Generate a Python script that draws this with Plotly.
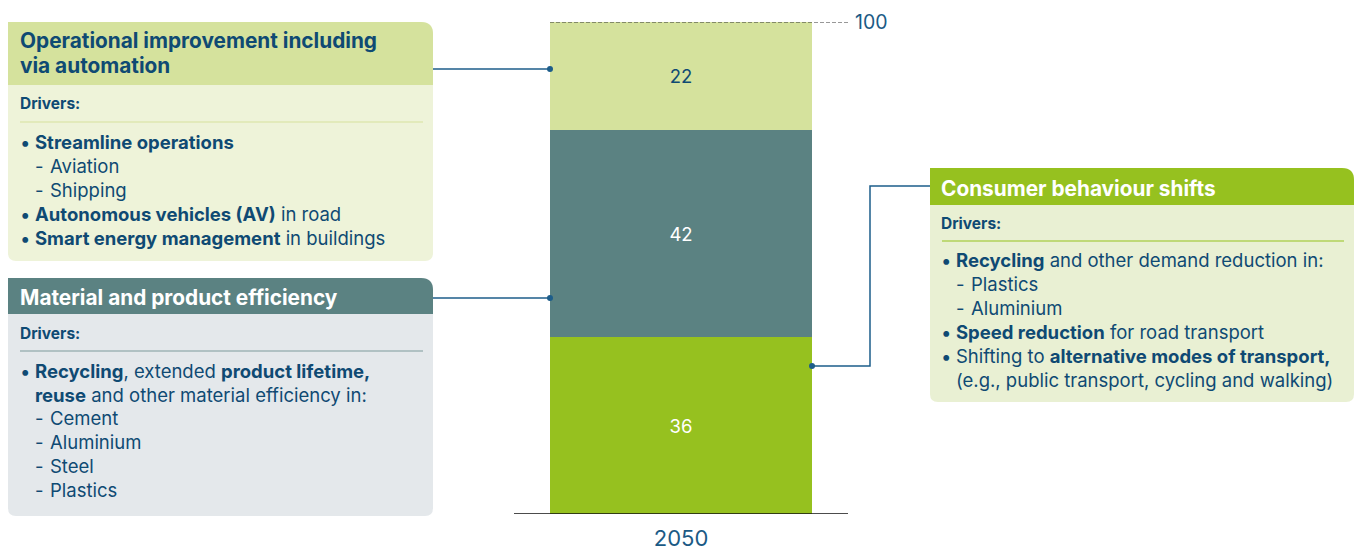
import plotly.graph_objects as go

# ---- data -------------------------------------------------------------
year = ["2050"]
segment_names = [
    "Consumer behaviour shifts",
    "Material and product efficiency",
    "Operational improvement including via automation",
]
segment_values = [36, 42, 22]
total = sum(segment_values)

# ---- styling ----------------------------------------------------------
W, H = 1357, 550
PLOT_TOP, PLOT_BOTTOM = 22, 514
FONT = "Inter, Roboto, 'Noto Sans', sans-serif"
TEXT = "#0f4a73"
LINK = "#1d5d8a"
BODY_SIZE = 18.5
TITLE_SIZE = 20.8
DRIVER_SIZE = 15.5

segment_colors = ["#96c11f", "#5b8282", "#d5e29d"]
segment_label_colors = ["#ffffff", "#ffffff", TEXT]

BAR_X, BAR_W = 681, 262


def px(x):
    return x / W


def py(y):
    return (PLOT_BOTTOM - y) / (PLOT_BOTTOM - PLOT_TOP)


def rrect(x0, y0, x1, y1, tl=0, tr=0, br=0, bl=0):
    pts = [
        ("M", [(x0 + tl, y0)]),
        ("L", [(x1 - tr, y0)]),
        ("Q", [(x1, y0), (x1, y0 + tr)]),
        ("L", [(x1, y1 - br)]),
        ("Q", [(x1, y1), (x1 - br, y1)]),
        ("L", [(x0 + bl, y1)]),
        ("Q", [(x0, y1), (x0, y1 - bl)]),
        ("L", [(x0, y0 + tl)]),
        ("Q", [(x0, y0), (x0 + tl, y0)]),
    ]
    s = ""
    for cmd, pl in pts:
        s += cmd + " " + " ".join(f"{px(a):.6f},{py(b):.6f}" for a, b in pl) + " "
    return s + "Z"


fig = go.Figure()

for name, val, col, lc in zip(segment_names, segment_values, segment_colors, segment_label_colors):
    fig.add_trace(go.Bar(
        x=[BAR_X], y=[val], width=[BAR_W], name=name,
        marker=dict(color=col, line=dict(width=0)),
        text=[str(val)], textposition="inside", insidetextanchor="middle",
        textfont=dict(family=FONT, size=18.5, color=lc),
        hoverinfo="skip", showlegend=False,
    ))

shapes = []
annotations = []


def box(x0, y0, x1, y1, hy, head_col, body_col, sep_col, sep_y, radii):
    tl, tr, br, bl = radii
    shapes.append(dict(type="path", path=rrect(x0, y0, x1, y1, tl, tr, br, bl),
                       xref="paper", yref="paper", fillcolor=body_col,
                       line=dict(width=0), layer="below"))
    shapes.append(dict(type="path", path=rrect(x0, y0, x1, hy, tl, tr, 0, 0),
                       xref="paper", yref="paper", fillcolor=head_col,
                       line=dict(width=0), layer="below"))
    shapes.append(dict(type="line", xref="paper", yref="paper",
                       x0=px(x0 + 12), x1=px(x1 - 10), y0=py(sep_y), y1=py(sep_y),
                       line=dict(color=sep_col, width=1.2), layer="below"))


def txt(x, y, s, size=BODY_SIZE, color=TEXT):
    annotations.append(dict(x=px(x), y=py(y), xref="paper", yref="paper",
                            text=s, showarrow=False, xanchor="left", yanchor="middle",
                            font=dict(family=FONT, size=size, color=color),
                            borderpad=0))


def bullet(x, y, s):
    txt(x - 1, y, "•")
    txt(x + 14, y, s)


def sub(x, y, s):
    txt(x + 14, y, "-")
    txt(x + 29, y, s)


# Operational improvement box
box(8, 22, 433, 261, 85, "#d5e29d", "#eef3d9", "#d5e29d", 122, (0, 12, 8, 8))
txt(19, 41, "<b>Operational improvement including</b>", TITLE_SIZE)
txt(19, 65, "<b>via automation</b>", TITLE_SIZE)
txt(19, 104, "<b>Drivers:</b>", DRIVER_SIZE)
bullet(20, 142, "<b>Streamline operations</b>")
sub(20, 166, "Aviation")
sub(20, 190, "Shipping")
bullet(20, 214, "<b>Autonomous vehicles (AV)</b> in road")
bullet(20, 238, "<b>Smart energy management</b> in buildings")

# Material and product efficiency box
box(8, 278, 433, 516, 314, "#5b8282", "#e4e8eb", "#7d9a9b", 351, (0, 12, 8, 8))
txt(19, 297, "<b>Material and product efficiency</b>", TITLE_SIZE, "#ffffff")
txt(19, 333, "<b>Drivers:</b>", DRIVER_SIZE)
bullet(20, 371, "<b>Recycling</b>, extended <b>product lifetime,</b>")
txt(34, 395, "<b>reuse</b> and other material efficiency in:")
sub(20, 418, "Cement")
sub(20, 442, "Aluminium")
sub(20, 466, "Steel")
sub(20, 490, "Plastics")

# Consumer behaviour shifts box
box(930, 168, 1354, 402, 205, "#96c11f", "#e9f0d3", "#96c11f", 241, (0, 12, 8, 8))
txt(940, 188, "<b>Consumer behaviour shifts</b>", TITLE_SIZE, "#ffffff")
txt(940, 223, "<b>Drivers:</b>", DRIVER_SIZE)
bullet(941, 260, "<b>Recycling</b> and other demand reduction in:")
sub(941, 284, "Plastics")
sub(941, 308, "Aluminium")
bullet(941, 332, "<b>Speed reduction</b> for road transport")
bullet(941, 356, "Shifting to <b>alternative modes of transport,</b>")
txt(955, 380, "(e.g., public transport, cycling and walking)")

# Connectors from boxes to bar segments
for yy in (69, 298):
    shapes.append(dict(type="line", xref="paper", yref="paper",
                       x0=px(433), x1=px(550), y0=py(yy), y1=py(yy),
                       line=dict(color=LINK, width=1.5)))
    shapes.append(dict(type="circle", xref="paper", yref="paper",
                       x0=px(547), x1=px(553), y0=py(yy - 3), y1=py(yy + 3),
                       fillcolor=LINK, line=dict(width=0)))
path = (f"M {px(812)},{py(366)} L {px(870)},{py(366)} "
        f"L {px(870)},{py(186)} L {px(930)},{py(186)}")
shapes.append(dict(type="path", path=path, xref="paper", yref="paper",
                   line=dict(color=LINK, width=1.5)))
shapes.append(dict(type="circle", xref="paper", yref="paper",
                   x0=px(809), x1=px(815), y0=py(363), y1=py(369),
                   fillcolor=LINK, line=dict(width=0)))

# Total reference line and baseline
shapes.append(dict(type="line", xref="x", yref="y", x0=550, x1=848, y0=total, y1=total,
                   line=dict(color="#333333", width=1.2, dash="4px,2px")))
annotations.append(dict(x=853, y=total, xref="x", yref="y", text=str(total),
                        showarrow=False, xanchor="left", yanchor="middle",
                        font=dict(family=FONT, size=19.5, color="#1b5a85")))
shapes.append(dict(type="line", xref="x", yref="y", x0=514, x1=848, y0=0, y1=0,
                   line=dict(color="#111111", width=1.5)))

fig.update_layout(
    width=W, height=H,
    margin=dict(l=0, r=0, t=PLOT_TOP, b=H - PLOT_BOTTOM),
    barmode="stack", bargap=0,
    paper_bgcolor="#ffffff", plot_bgcolor="#ffffff",
    xaxis=dict(range=[0, W], showgrid=False, zeroline=False, showline=False,
               automargin=False,
               tickvals=[BAR_X], ticktext=year, ticks="", ticklabelstandoff=9,
               tickfont=dict(family=FONT, size=22, color="#1b5a85")),
    yaxis=dict(range=[0, total], visible=False, automargin=False),
    shapes=shapes, annotations=annotations,
    showlegend=False,
)

fig.write_html("out.html")
